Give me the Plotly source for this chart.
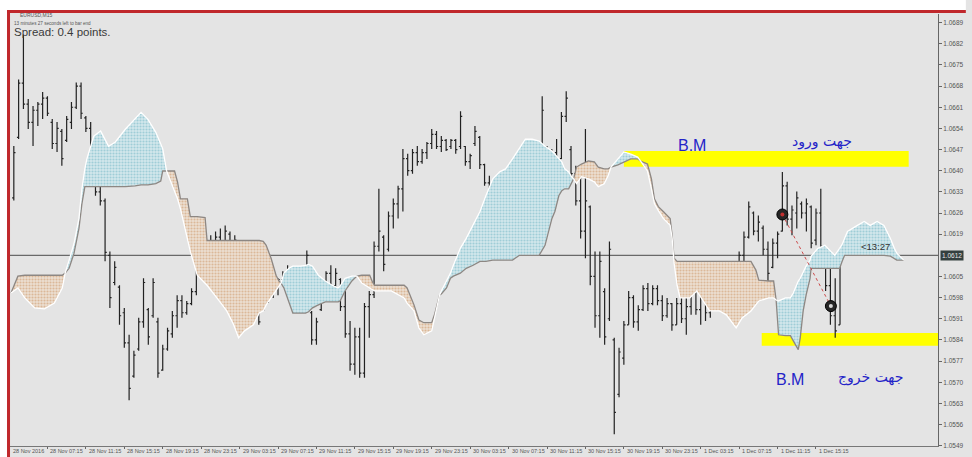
import plotly.graph_objects as go

# ---------------- data ----------------
bar_t = list(range(1, 174))
bar_open = [1.06310,1.06510,1.06690,1.06620,1.06560,1.06600,1.06620,1.06640,1.06560,1.06490,
1.06530,1.06500,1.06560,1.06610,1.06680,1.06575,1.06540,1.06390,1.06330,1.06300,
1.06120,1.06030,1.06015,1.05930,1.05830,1.05720,1.05810,1.05900,1.05940,1.05920,
1.05900,1.05740,1.05810,1.05860,1.05920,1.05970,1.05930,1.05960,1.06000,1.06090,
1.06140,1.06160,1.06120,1.06180,1.06130,1.06190,1.06120,1.06105,1.06020,1.06050,
1.06000,1.05930,1.05940,1.05970,1.06000,1.06020,1.06040,1.06060,1.06050,1.05990,
1.06030,1.05990,1.05930,1.05840,1.05940,1.06000,1.06060,1.06020,1.06040,1.05950,
1.05860,1.05760,1.05850,1.05730,1.05950,1.05990,1.06150,1.06180,1.06140,1.06250,
1.06290,1.06340,1.06440,1.06400,1.06460,1.06430,1.06460,1.06490,1.06520,1.06480,
1.06500,1.06480,1.06500,1.06480,1.06480,1.06430,1.06490,1.06510,1.06420,1.06360,
1.06310,1.06350,1.06310,1.06340,1.06320,1.06345,1.06300,1.06330,1.06240,1.06300,
1.06440,1.06470,1.06420,1.06460,1.06440,1.06580,1.06470,1.06390,1.06300,1.06200,
1.06280,1.06050,1.05920,1.06000,1.05910,1.05840,1.05660,1.05780,1.05890,1.05980,
1.05900,1.05940,1.06010,1.05960,1.06010,1.05970,1.05920,1.05960,1.05890,1.05960,
1.05910,1.05950,1.06000,1.05940,1.05980,1.05930,1.06000,1.05970,1.06020,1.05990,
1.06010,1.06040,1.06120,1.06180,1.06260,1.06200,1.06210,1.06140,1.06080,1.06160,
1.06200,1.06350,1.06240,1.06260,1.06290,1.06260,1.06280,1.06170,1.06260,1.06110,
1.06020,1.05920,1.05890]
bar_high = [1.06482,1.06702,1.06850,1.06637,1.06614,1.06627,1.06660,1.06646,1.06571,1.06561,
1.06538,1.06581,1.06627,1.06692,1.06692,1.06581,1.06561,1.06406,1.06350,1.06308,
1.06133,1.06100,1.06021,1.05946,1.05857,1.05804,1.05913,1.06044,1.05946,1.06044,
1.05913,1.05824,1.05880,1.05936,1.05988,1.05988,1.05969,1.06011,1.06100,1.06153,
1.06176,1.06186,1.06199,1.06209,1.06219,1.06199,1.06186,1.06110,1.06067,1.06061,
1.06021,1.05955,1.05979,1.06011,1.06034,1.06044,1.06067,1.06087,1.06071,1.06044,
1.06038,1.06136,1.05936,1.05913,1.06011,1.06067,1.06087,1.06077,1.06044,1.06002,
1.05903,1.05880,1.05880,1.05962,1.06002,1.06166,1.06340,1.06186,1.06265,1.06308,
1.06350,1.06472,1.06456,1.06472,1.06482,1.06472,1.06495,1.06538,1.06531,1.06515,
1.06505,1.06505,1.06505,1.06597,1.06482,1.06456,1.06548,1.06515,1.06423,1.06383,
1.06373,1.06363,1.06363,1.06363,1.06357,1.06350,1.06439,1.06340,1.06317,1.06449,
1.06646,1.06482,1.06472,1.06505,1.06594,1.06663,1.06482,1.06416,1.06406,1.06538,
1.06285,1.06133,1.06133,1.06011,1.06166,1.05847,1.05814,1.05903,1.06002,1.05988,
1.05955,1.06021,1.06028,1.06021,1.06021,1.05988,1.05979,1.05962,1.05979,1.05979,
1.05979,1.06011,1.06011,1.06011,1.05988,1.06011,1.06021,1.06034,1.06028,1.06021,
1.06044,1.06133,1.06199,1.06298,1.06265,1.06252,1.06219,1.06166,1.06176,1.06199,
1.06396,1.06363,1.06285,1.06331,1.06298,1.06308,1.06285,1.06275,1.06340,1.06120,
1.06087,1.06044,1.06143]
bar_low = [1.06301,1.06505,1.06604,1.06538,1.06482,1.06548,1.06571,1.06581,1.06472,1.06462,
1.06416,1.06495,1.06538,1.06604,1.06571,1.06528,1.06373,1.06317,1.06285,1.06100,
1.05946,1.06021,1.05890,1.05814,1.05640,1.05715,1.05804,1.05880,1.05824,1.05913,
1.05715,1.05738,1.05804,1.05847,1.05880,1.05913,1.05923,1.05955,1.05988,1.06067,
1.06110,1.06100,1.06110,1.06110,1.06110,1.06100,1.06104,1.06011,1.05988,1.05988,
1.05913,1.05890,1.05936,1.05962,1.05979,1.05988,1.06021,1.06034,1.05979,1.05936,
1.05936,1.05988,1.05824,1.05824,1.05936,1.05969,1.06002,1.05995,1.05936,1.05847,
1.05738,1.05725,1.05715,1.05715,1.05847,1.05979,1.06133,1.06067,1.06133,1.06209,
1.06242,1.06265,1.06383,1.06390,1.06416,1.06423,1.06439,1.06472,1.06472,1.06462,
1.06465,1.06472,1.06456,1.06472,1.06416,1.06406,1.06482,1.06406,1.06350,1.06298,
1.06285,1.06298,1.06291,1.06308,1.06308,1.06285,1.06242,1.06219,1.06186,1.06298,
1.06439,1.06373,1.06416,1.06396,1.06439,1.06561,1.06373,1.06285,1.06176,1.06110,
1.06021,1.05880,1.05847,1.05824,1.05903,1.05528,1.05650,1.05758,1.05890,1.05880,
1.05870,1.05936,1.05936,1.05955,1.05955,1.05903,1.05913,1.05870,1.05890,1.05896,
1.05857,1.05923,1.05923,1.05890,1.05903,1.05913,1.05955,1.05969,1.05962,1.05955,
1.05979,1.06021,1.06087,1.06176,1.06186,1.06166,1.06120,1.06034,1.06077,1.06110,
1.06199,1.06219,1.06186,1.06209,1.06242,1.06199,1.06143,1.06153,1.06143,1.06002,
1.05890,1.05847,1.05890]
bar_close = [1.06460,1.06690,1.06620,1.06560,1.06600,1.06620,1.06640,1.06590,1.06490,1.06540,
1.06440,1.06570,1.06610,1.06680,1.06590,1.06540,1.06390,1.06330,1.06300,1.06130,
1.05980,1.06080,1.05920,1.05830,1.05680,1.05790,1.05900,1.06030,1.05850,1.06030,
1.05730,1.05810,1.05870,1.05920,1.05970,1.05930,1.05960,1.06000,1.06090,1.06140,
1.06160,1.06120,1.06180,1.06130,1.06200,1.06120,1.06170,1.06020,1.06050,1.06000,
1.05930,1.05900,1.05970,1.06000,1.06020,1.06040,1.06060,1.06050,1.05990,1.06030,
1.05950,1.06120,1.05840,1.05900,1.06000,1.06060,1.06020,1.06060,1.05950,1.05860,
1.05760,1.05850,1.05730,1.05950,1.05990,1.06150,1.06200,1.06090,1.06250,1.06290,
1.06340,1.06440,1.06400,1.06460,1.06430,1.06460,1.06490,1.06520,1.06480,1.06500,
1.06470,1.06500,1.06470,1.06580,1.06430,1.06450,1.06530,1.06420,1.06360,1.06310,
1.06350,1.06310,1.06340,1.06320,1.06345,1.06300,1.06400,1.06240,1.06300,1.06430,
1.06600,1.06390,1.06460,1.06410,1.06580,1.06640,1.06390,1.06300,1.06200,1.06300,
1.06050,1.05920,1.06100,1.05850,1.06140,1.05600,1.05800,1.05890,1.05980,1.05900,
1.05940,1.06010,1.05960,1.06010,1.05970,1.05920,1.05960,1.05890,1.05960,1.05910,
1.05950,1.06000,1.05940,1.05990,1.05930,1.06000,1.05970,1.06020,1.05990,1.06010,
1.06040,1.06120,1.06180,1.06280,1.06200,1.06230,1.06140,1.06060,1.06160,1.06190,
1.06350,1.06240,1.06270,1.06310,1.06260,1.06290,1.06160,1.06260,1.06150,1.06020,
1.05920,1.05870,1.06120]

# Ichimoku cloud (Senkou span A / span B)
cloud_t = [0.41,1.85,3.28,5.33,7.38,9.44,11.08,11.69,
12.51,13.54,14.56,15.18,15.79,16.21,17.64,19.08,20.72,22.15,24.21,26.26,27.49,28.92,30.56,31.59,32.0,32.62,32.82,
33.44,34.46,35.08,35.69,37.13,37.74,39.18,40.82,41.23,43.28,45.33,46.77,47.79,49.03,50.87,52.10,52.92,53.54,54.56,55.59,56.21,56.62,
57.23,58.26,59.08,60.72,61.74,62.36,63.18,64.41,65.85,67.28,68.51,68.92,69.95,71.38,72.41,
73.44,75.08,75.69,76.10,79.59,82.26,82.87,84.31,85.33,86.36,88.0,88.62,89.64,
90.0,91.08,91.90,92.51,93.95,95.18,96.62,98.05,99.28,100.72,102.15,103.38,104.82,106.26,107.49,108.92,110.36,111.59,112.41,113.03,113.64,114.46,115.08,115.69,116.51,117.13,117.54,
118.15,119.18,120.62,121.85,122.67,123.90,124.72,125.33,
126.77,128.0,129.44,130.87,131.49,
132.92,133.74,134.36,135.18,136.21,137.64,138.05,138.46,139.08,139.69,141.74,143.18,145.85,147.90,149.33,151.38,152.62,154.46,155.49,156.10,158.15,159.18,159.70,
160.21,161.64,162.67,163.28,163.69,164.31,164.72,165.33,165.95,166.77,166.97,168.41,169.85,171.08,171.90,172.92,173.54,173.95,174.56,176.62,178.05,179.28,180.72,182.15,183.49,184.31,184.82,186.26]
span_a = [1.05995,1.06012,1.05979,1.05946,1.05943,1.05962,1.06012,1.06061,
1.06104,1.06159,1.06242,1.06340,1.06406,1.06439,1.06514,1.06531,1.06481,1.06495,1.06537,1.06570,1.06593,1.06570,1.06527,1.06488,1.06472,1.06416,1.06399,
1.06373,1.06330,1.06307,1.06274,1.06176,1.06133,1.06054,1.06028,1.06021,1.05979,1.05936,1.05890,1.05847,1.05870,1.05890,1.05929,1.05936,1.05956,1.05979,1.06002,1.06018,1.06028,
1.06061,1.06077,1.06084,1.06084,1.06087,1.06090,1.06084,1.06054,1.06035,1.06021,1.06012,1.06018,1.06044,1.06051,1.06051,
1.06028,1.06012,1.06005,1.06002,1.06002,1.05979,1.05962,1.05936,1.05880,1.05857,1.05870,1.05913,1.05989,
1.06002,1.06035,1.06061,1.06087,1.06143,1.06176,1.06219,1.06265,1.06317,1.06373,1.06396,1.06406,1.06439,1.06472,1.06504,1.06504,1.06498,1.06481,1.06472,1.06465,1.06455,1.06439,1.06429,1.06406,1.06396,1.06380,1.06373,
1.06357,1.06380,1.06373,1.06363,1.06347,1.06357,1.06383,1.06412,
1.06439,1.06462,1.06455,1.06445,1.06432,
1.06399,1.06340,1.06291,1.06268,1.06242,1.06219,1.06176,1.06094,1.06021,1.05979,1.05979,1.06002,1.05936,1.05936,1.05923,1.05880,1.05913,1.05936,1.05956,1.05969,1.05979,1.05979,1.05972,
1.05969,1.05979,1.05979,1.05995,1.06012,1.06035,1.06044,1.06067,1.06084,1.06104,1.06117,1.06143,1.06153,1.06133,1.06120,1.06143,1.06159,1.06176,1.06199,1.06219,1.06232,1.06219,1.06232,1.06219,1.06176,1.06143,1.06127,1.06104]
span_b = [1.05995,1.06051,1.06054,1.06054,1.06054,1.06054,1.06054,1.06061,
1.06077,1.06127,1.06209,1.06291,1.06347,1.06347,1.06347,1.06347,1.06347,1.06347,1.06347,1.06350,1.06353,1.06353,1.06357,1.06366,1.06399,1.06399,1.06399,
1.06399,1.06399,1.06363,1.06307,1.06307,1.06248,1.06248,1.06245,1.06169,1.06169,1.06169,1.06169,1.06169,1.06169,1.06169,1.06169,1.06166,1.06153,1.06110,1.06054,1.06035,1.06028,
1.06012,1.05962,1.05929,1.05929,1.05929,1.05933,1.05946,1.05956,1.05966,1.05966,1.05966,1.05969,1.06002,1.06035,1.06051,
1.06054,1.06054,1.06031,1.06021,1.06021,1.06021,1.06012,1.05956,1.05906,1.05897,1.05897,1.05926,1.05989,
1.05992,1.06012,1.06044,1.06051,1.06061,1.06077,1.06087,1.06100,1.06100,1.06104,1.06104,1.06104,1.06104,1.06120,1.06120,1.06120,1.06120,1.06153,1.06209,1.06242,1.06265,1.06317,1.06334,1.06340,1.06340,1.06357,1.06373,
1.06412,1.06422,1.06432,1.06429,1.06412,1.06406,1.06406,1.06412,
1.06419,1.06429,1.06439,1.06439,1.06432,
1.06422,1.06373,1.06307,1.06281,1.06265,1.06242,1.06186,1.06110,1.06100,1.06100,1.06100,1.06100,1.06100,1.06100,1.06100,1.06100,1.06100,1.06100,1.06071,1.06038,1.06035,1.06035,1.05972,
1.05857,1.05854,1.05854,1.05837,1.05824,1.05808,1.05847,1.05936,1.05989,1.06044,1.06077,1.06077,1.06077,1.06077,1.06077,1.06077,1.06104,1.06120,1.06120,1.06120,1.06120,1.06120,1.06120,1.06120,1.06117,1.06110,1.06104,1.06104]

current_price = 1.0612
price_ticks = [1.0549,1.0556,1.0563,1.0570,1.0577,1.0584,1.0591,1.0598,1.0605,1.0612,
               1.0619,1.0626,1.0633,1.0640,1.0647,1.0654,1.0661,1.0668,1.0675,1.0682,1.0689]
x_tick_labels = ["28 Nov 2016","28 Nov 07:15","28 Nov 11:15","28 Nov 15:15","28 Nov 19:15",
                 "28 Nov 23:15","29 Nov 03:15","29 Nov 07:15","29 Nov 11:15","29 Nov 15:15",
                 "29 Nov 19:15","29 Nov 23:15","30 Nov 03:15","30 Nov 07:15","30 Nov 11:15",
                 "30 Nov 15:15","30 Nov 19:15","30 Nov 23:15","1 Dec 03:15","1 Dec 07:15",
                 "1 Dec 11:15","1 Dec 15:15"]
bars_per_label = 8

zone_top = [1.06465, 1.05863]
zone_bottom = [1.06413, 1.05821]
zone_start = [128.0, 156.7]
zone_end = [187.3, 193.4]

trade_t = [161.0, 171.1]
trade_price = [1.06255, 1.05952]

# ---------------- figure ----------------
X_RANGE = [0.205, 193.4]
Y_RANGE = [1.05489, 1.069185]
BG = "#e4e4e4"

fig = go.Figure()

# cloud fill segments (split at crossings)
diffs = [a - b for a, b in zip(span_a, span_b)]
segments, cur = [], [0]
for i in range(1, len(cloud_t)):
    cur.append(i)
    if diffs[i] == 0:
        segments.append(cur)
        cur = [i]
if len(cur) > 1:
    segments.append(cur)

for seg in segments:
    s = sum(diffs[j] for j in seg)
    if s > 0:
        bgc, fgc = "#d3e8ec", "#9fcdd7"
    else:
        bgc, fgc = "#ecdfd2", "#dbb898"
    xs = [cloud_t[j] for j in seg] + [cloud_t[j] for j in reversed(seg)]
    ys = [span_a[j] for j in seg] + [span_b[j] for j in reversed(seg)]
    fig.add_trace(go.Scatter(x=xs, y=ys, mode="lines", fill="toself",
                             line=dict(width=0), fillcolor=bgc,
                             fillpattern=dict(shape=".", size=3, solidity=0.4,
                                              fgcolor=fgc, bgcolor=bgc, fillmode="replace"),
                             hoverinfo="skip", showlegend=False))

fig.add_trace(go.Scatter(x=cloud_t, y=span_b, mode="lines",
                         line=dict(color="#8d8783", width=1.3),
                         hoverinfo="skip", showlegend=False))
fig.add_trace(go.Scatter(x=cloud_t, y=span_a, mode="lines",
                         line=dict(color="#ffffff", width=1.3),
                         hoverinfo="skip", showlegend=False))

fig.add_trace(go.Ohlc(x=bar_t, open=bar_open, high=bar_high, low=bar_low, close=bar_close,
                      increasing=dict(line=dict(color="#222222", width=1.2)),
                      decreasing=dict(line=dict(color="#222222", width=1.2)),
                      tickwidth=0.35, hoverinfo="skip", showlegend=False))

# trade line + markers
fig.add_trace(go.Scatter(x=trade_t, y=trade_price, mode="lines",
                         line=dict(color="#cc4b4b", width=1, dash="dot"),
                         hoverinfo="skip", showlegend=False))
fig.add_trace(go.Scatter(x=trade_t, y=trade_price, mode="markers",
                         marker=dict(size=11, color="#262626", line=dict(color="#000", width=1)),
                         hoverinfo="skip", showlegend=False))
fig.add_trace(go.Scatter(x=trade_t, y=trade_price, mode="markers",
                         marker=dict(size=4, color=["#c03030", "#d8d8d8"]),
                         hoverinfo="skip", showlegend=False))

shapes = []
for z0, z1, s0, s1 in zip(zone_bottom, zone_top, zone_start, zone_end):
    shapes.append(dict(type="rect", xref="x", yref="y", x0=s0, x1=s1, y0=z0, y1=z1,
                       fillcolor="#ffff00", line=dict(width=0), layer="below"))
shapes.append(dict(type="line", xref="paper", yref="y", x0=0, x1=1,
                   y0=current_price, y1=current_price,
                   line=dict(color="#4a4a4a", width=1), layer="below"))
# window frame: white bands + red border
shapes.append(dict(type="rect", xref="paper", yref="paper", x0=-0.02, x1=1.03,
                   y0=1.0092, y1=1.04, fillcolor="#ffffff", line=dict(width=0), layer="above"))
shapes.append(dict(type="rect", xref="paper", yref="paper", x0=-0.02, x1=-0.0032,
                   y0=-0.03, y1=1.04, fillcolor="#ffffff", line=dict(width=0), layer="above"))
shapes.append(dict(type="line", xref="paper", yref="paper", x0=-0.0032, x1=1.03,
                   y0=1.0058, y1=1.0058, line=dict(color="#c0282c", width=3), layer="above"))
shapes.append(dict(type="line", xref="paper", yref="paper", x0=-0.0016, x1=-0.0016,
                   y0=1.0092, y1=-0.03, line=dict(color="#c0282c", width=3), layer="above"))

ann = []
for k, lab in enumerate(x_tick_labels):
    pos = k * bars_per_label
    ann.append(dict(x=max(pos, 0.5), y=0, xref="x", yref="paper", text=lab,
                    showarrow=False, xanchor="left", yanchor="top",
                    xshift=1 if pos > 0 else 0, yshift=0,
                    font=dict(size=5.5, color="#555555", family="Liberation Sans")))
ann.append(dict(x=1, y=current_price, xref="paper", yref="y", text=f"{current_price:.4f}",
                showarrow=False, xanchor="left", yanchor="middle", xshift=2,
                bgcolor="#34403f", borderpad=1,
                font=dict(size=6.5, color="#e8e8e8", family="Liberation Sans")))
ann.append(dict(x=0.0085, y=0.9977, xref="paper", yref="paper", text="EURUSD,M15",
                showarrow=False, xanchor="left", yanchor="middle",
                font=dict(size=5, color="#555555", family="Liberation Sans")))
ann.append(dict(x=0.0021, y=0.978, xref="paper", yref="paper",
                text="13 minutes 27 seconds left to bar end",
                showarrow=False, xanchor="left", yanchor="middle",
                font=dict(size=4.6, color="#555555", family="Liberation Sans")))
ann.append(dict(x=0.0021, y=0.9585, xref="paper", yref="paper", text="Spread: 0.4 points.",
                showarrow=False, xanchor="left", yanchor="middle",
                font=dict(size=11.5, color="#3a3a3a", family="Liberation Sans")))
blue = "#2323c8"
ann.append(dict(x=142.2, y=1.06485, xref="x", yref="y", text="B.M", showarrow=False,
                font=dict(size=16, color=blue, family="Liberation Sans")))
ann.append(dict(x=169.2, y=1.06498, xref="x", yref="y", text="جهت ورود", showarrow=False,
                font=dict(size=14, color=blue, family="DejaVu Sans")))
ann.append(dict(x=162.5, y=1.05709, xref="x", yref="y", text="B.M", showarrow=False,
                font=dict(size=16, color=blue, family="Liberation Sans")))
ann.append(dict(x=179.3, y=1.05715, xref="x", yref="y", text="جهت خروج", showarrow=False,
                font=dict(size=14, color=blue, family="DejaVu Sans")))
ann.append(dict(x=177.0, y=1.06150, xref="x", yref="y", text="<13:27", showarrow=False,
                xanchor="left", font=dict(size=9.5, color="#333333", family="Liberation Sans")))

fig.update_layout(
    width=972, height=457,
    margin=dict(l=10, r=20, t=14, b=8),
    paper_bgcolor=BG, plot_bgcolor=BG,
    showlegend=False,
    shapes=shapes, annotations=ann,
    xaxis=dict(range=X_RANGE, showgrid=False, zeroline=False,
               tickvals=[k * bars_per_label for k in range(len(x_tick_labels))],
               showticklabels=False, ticks="outside", ticklen=2, tickcolor="#666",
               showline=True, linecolor="#777777", linewidth=1,
               rangeslider=dict(visible=False), fixedrange=True),
    yaxis=dict(range=Y_RANGE, side="right", showgrid=False, zeroline=False,
               tickvals=[v for v in price_ticks if abs(v - current_price) > 1e-9],
               ticktext=[f"{v:.4f}" for v in price_ticks if abs(v - current_price) > 1e-9],
               ticks="outside", ticklen=3, tickcolor="#666",
               tickfont=dict(size=6.5, color="#555555", family="Liberation Sans"),
               showline=True, linecolor="#666666", linewidth=1, fixedrange=True),
)

fig.write_html("out.html", config={"displayModeBar": False},
               post_script="document.body.style.margin='0';document.body.style.overflow='hidden';")
